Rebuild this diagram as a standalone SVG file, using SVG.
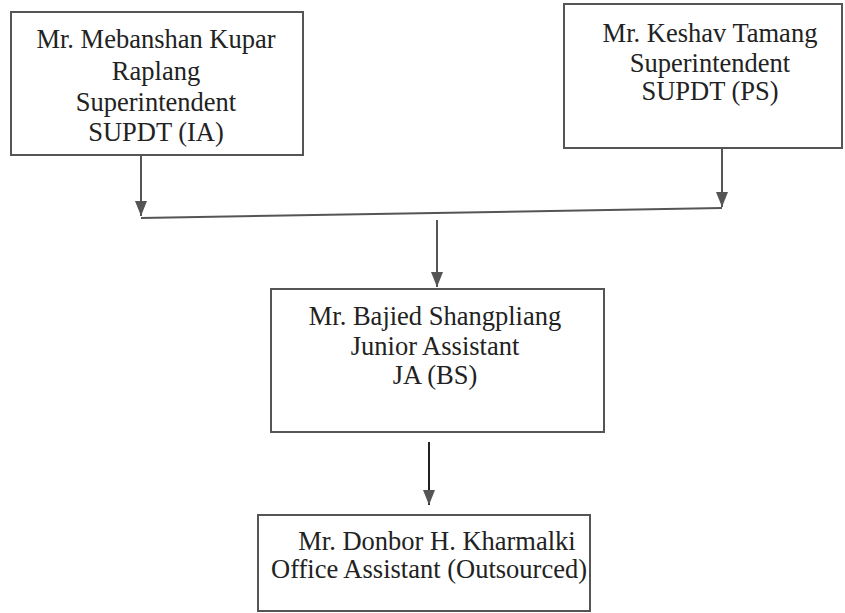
<svg xmlns="http://www.w3.org/2000/svg" width="845" height="613" viewBox="0 0 845 613">
<defs>
<style>
.box{fill:#fff;stroke:#555;stroke-width:2}
.t{font-family:"Liberation Serif","DejaVu Serif","Times New Roman",serif;font-size:26.5px;fill:#222;text-anchor:middle}
.c{fill:none;stroke:#555;stroke-width:2}
</style>
<marker id="ah" markerWidth="15" markerHeight="12" refX="15" refY="6" orient="auto" markerUnits="userSpaceOnUse" viewBox="0 0 15 12">
<path d="M0,0 L15,6 L0,12 Z" fill="#555"/>
</marker>
</defs>
<rect width="845" height="613" fill="#fff"/>
<g id="node-raplang">
<rect class="box" x="11" y="12" width="292" height="143"/>
<text class="t" x="156" y="48">Mr. Mebanshan Kupar</text>
<text class="t" x="156" y="80">Raplang</text>
<text class="t" x="156" y="111">Superintendent</text>
<text class="t" x="156" y="141">SUPDT (IA)</text>
</g>
<g id="node-tamang">
<rect class="box" x="564" y="4" width="278" height="144"/>
<text class="t" x="710" y="42">Mr. Keshav Tamang</text>
<text class="t" x="710" y="72">Superintendent</text>
<text class="t" x="710" y="100">SUPDT (PS)</text>
</g>
<g id="node-shangpliang">
<rect class="box" x="271" y="289" width="333" height="143"/>
<text class="t" x="435" y="325">Mr. Bajied Shangpliang</text>
<text class="t" x="435" y="355">Junior Assistant</text>
<text class="t" x="435" y="384">JA (BS)</text>
</g>
<g id="node-kharmalki">
<rect class="box" x="258" y="515" width="332" height="96"/>
<text class="t" x="437" y="550">Mr. Donbor H. Kharmalki</text>
<text class="t" x="429" y="578">Office Assistant (Outsourced)</text>
</g>
<g id="connectors">
<line class="c" x1="141" y1="155" x2="141" y2="216" marker-end="url(#ah)"/>
<line class="c" x1="722" y1="148" x2="722" y2="207" marker-end="url(#ah)"/>
<line class="c" x1="141" y1="218" x2="722" y2="208"/>
<line class="c" x1="437" y1="220" x2="437" y2="287" marker-end="url(#ah)"/>
<line class="c" x1="429" y1="442" x2="429" y2="505" marker-end="url(#ah)" style="stroke:#222"/>
</g>
</svg>
